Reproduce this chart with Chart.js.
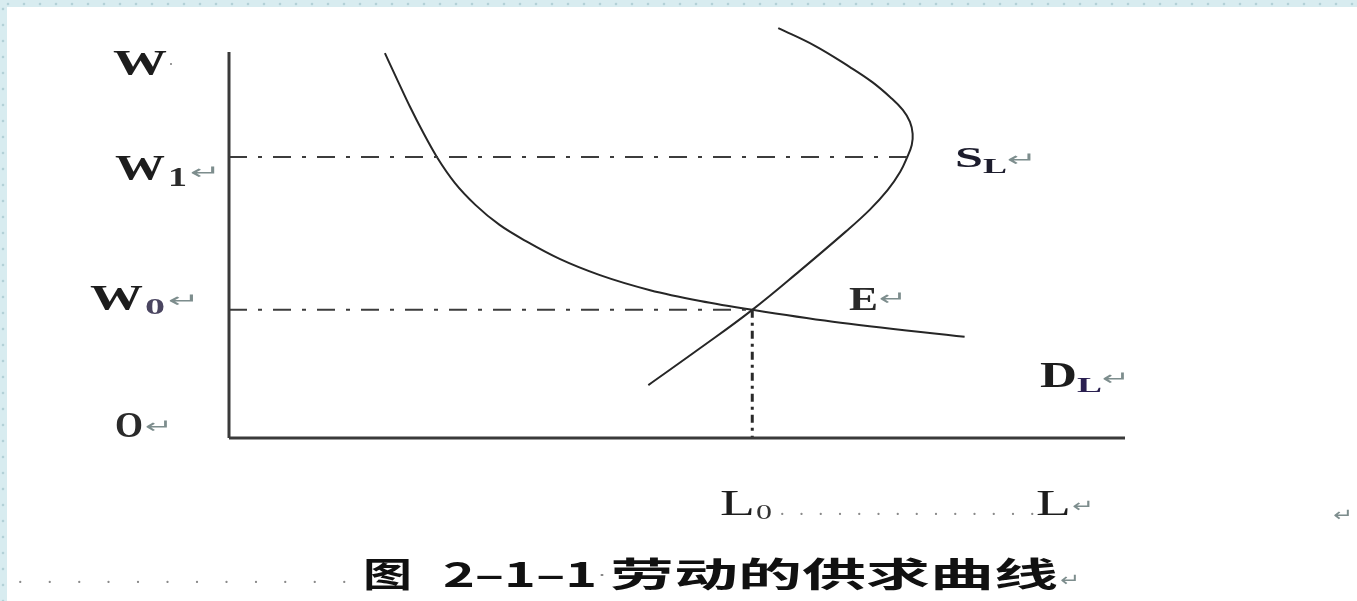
<!DOCTYPE html>
<html>
<head>
<meta charset="utf-8">
<script src="https://cdn.jsdelivr.net/npm/chart.js@4/dist/chart.umd.min.js"></script>
<style>
  html, body { margin: 0; padding: 0; overflow: hidden; }
  body {
    width: 1357px; height: 601px; position: relative;
    background:
      radial-gradient(circle at 8px 4px, #b3d1d7 1px, transparent 1.7px) 0 0 / 16px 7px repeat-x,
      radial-gradient(circle at 3px 9px, #b3d1d7 1px, transparent 1.7px) 0 0 / 7px 16px repeat-y,
      linear-gradient(#d8ecf0, #d8ecf0) 0 0 / 100% 7px no-repeat,
      linear-gradient(#d8ecf0, #d8ecf0) 0 0 / 7px 100% no-repeat,
      #fff;
  }
  #chart { position: absolute; left: 0; top: 0; }
</style>
</head>
<body>
<canvas id="chart" width="1357" height="601"></canvas>
<script>
/* Labour supply / demand curves (W against L), abstract 0-100 units */
const demandL = [17.4, 18.9, 20.2, 21.7, 23.2, 25.2, 27.5, 30.2, 33.3, 36.9, 41.4, 47.0, 52.6, 58.4, 67.4, 82.1];
const demandW = [99.7, 92.2, 85.8, 79.0, 72.8, 66.1, 60.4, 55.2, 50.8, 46.4, 42.2, 38.3, 35.5, 33.2, 30.1, 26.2];
const supplyL = [46.8, 52.6, 58.4, 63.7, 68.8, 71.5, 73.5, 74.9, 75.7, 76.2, 76.3, 76.0, 75.2, 73.8, 71.8, 69.3, 65.4, 61.3];
const supplyW = [13.7, 23.3, 33.2, 43.3, 53.4, 59.1, 64.2, 68.9, 72.8, 75.9, 78.8, 81.9, 85.0, 88.3, 92.2, 96.1, 101.6, 106.2];
const W0 = 33.2, W1 = 72.8;   // wage levels
const L0 = 58.4, L1 = 75.7;   // equilibrium labour, S_L at W1
const axisMax = 100;

const pts = (xs, ys) => xs.map((x, i) => ({ x, y: ys[i] }));
const seg = (data, extra) => Object.assign({
  data, borderColor: "#333", borderWidth: 2, pointRadius: 0, tension: 0, clip: false
}, extra);

/* ---------- text labels ---------- */
const RET = "#7d8d8d";
const SERIF = "Liberation Serif";
const CJK = "'Noto Sans CJK SC'";
// [text, left, baseline, width, font, colour]
const labels = [
  ["W", 113, 75, 54, `bold 35px ${SERIF}`, "#1d1d1d"],
  ["·", 168, 70, 6, `16px DejaVu Sans`, "#999"],
  ["W", 115, 180, 50, `bold 35px ${SERIF}`, "#1d1d1d"],
  ["1", 168, 186, 19, `bold 27px ${SERIF}`, "#2a2a2a"],
  ["↵", 190, 179, 31, `20px DejaVu Sans`, RET],
  ["W", 90, 310, 53, `bold 35px ${SERIF}`, "#1d1d1d"],
  ["0", 145, 314, 20, `bold 24px ${SERIF}`, "#4a4560"],
  ["↵", 168, 307, 32, `20px DejaVu Sans`, RET],
  ["O", 115, 437, 28, `bold 35px ${SERIF}`, "#2a2a2a"],
  ["↵", 145, 433, 28, `20px DejaVu Sans`, RET],
  ["S", 955, 167, 28, `bold 30px ${SERIF}`, "#1d1d2d"],
  ["L", 983, 173, 24, `bold 21px ${SERIF}`, "#1d1d2d"],
  ["↵", 1007, 166, 30, `20px DejaVu Sans`, RET],
  ["E", 849, 310, 29, `bold 34px ${SERIF}`, "#2a2a2a"],
  ["↵", 879, 305, 28, `20px DejaVu Sans`, RET],
  ["D", 1040, 387, 37, `bold 35px ${SERIF}`, "#1d1d1d"],
  ["L", 1077, 392, 25, `bold 22px ${SERIF}`, "#2a2050"],
  ["↵", 1102, 385, 28, `20px DejaVu Sans`, RET],
  ["L", 720, 515, 35, `36px ${SERIF}`, "#1d1d1d"],
  ["0", 756, 519, 16, `22px ${SERIF}`, "#333"],
  ["L", 1036, 515, 35, `36px ${SERIF}`, "#1d1d1d"],
  ["↵", 1072, 512, 22, `18px DejaVu Sans`, RET],
  ["↵", 1333, 521, 20, `18px DejaVu Sans`, RET],
  ["图", 363, 587, 49, `bold 34px ${CJK}`, "#111"],
  ["2–1–1", 443, 587, 154, `bold 34px ${CJK}`, "#111"],
  ["·", 598, 581, 8, `16px DejaVu Sans`, "#888"],
  ["劳动的供求曲线", 610, 587, 448, `bold 34px ${CJK}`, "#111"],
  ["↵", 1060, 586, 20, `18px DejaVu Sans`, RET],
];
// dotted leaders: [count, from, to, baseline]
const leaders = [
  [14, 780, 1030, 515],
  [12, 18, 342, 583],
];

const labelPlugin = {
  id: "labels",
  afterDraw(chart) {
    const ctx = chart.ctx;
    labels.forEach(([t, x, y, w, font, col]) => {
      ctx.save();
      ctx.font = font;
      ctx.fillStyle = col;
      ctx.textBaseline = "alphabetic";
      const m = ctx.measureText(t).width;
      ctx.translate(x, y);
      ctx.scale(w / m, 1);
      ctx.fillText(t, 0, 0);
      ctx.restore();
    });
    ctx.save();
    ctx.font = `18px ${SERIF}`;
    ctx.fillStyle = "#8a8a8a";
    leaders.forEach(([n, a, b, y]) => {
      for (let i = 0; i < n; i++) ctx.fillText(".", a + (b - a) * i / (n - 1), y);
    });
    ctx.restore();
  }
};

new Chart(document.getElementById("chart"), {
  type: "line",
  data: {
    datasets: [
      seg([{ x: 0, y: 0 }, { x: 0, y: axisMax }], { borderColor: "#3a3a3a", borderWidth: 3 }),
      seg([{ x: 0, y: 0 }, { x: axisMax, y: 0 }], { borderColor: "#3a3a3a", borderWidth: 3 }),
      seg([{ x: 0, y: W1 }, { x: L1, y: W1 }], { borderDash: [18, 11, 4, 11], borderColor: "#3c3c3c" }),
      seg([{ x: 0, y: W0 }, { x: L0, y: W0 }], { borderDash: [18, 11, 4, 11], borderColor: "#3c3c3c" }),
      seg([{ x: L0, y: W0 }, { x: L0, y: 0 }], { borderDash: [8, 5, 3, 5], borderWidth: 3, borderColor: "#2a2a2a" }),
      seg(pts(demandL, demandW), { cubicInterpolationMode: "monotone", borderColor: "#262626" }),
      seg(pts(supplyL, supplyW), { tension: 0.4, borderColor: "#262626" }),
    ]
  },
  options: {
    responsive: false, animation: false, devicePixelRatio: 1,
    layout: { padding: { left: 229, right: 232, top: 13.4, bottom: 163 } },
    scales: {
      x: { type: "linear", min: 0, max: 100, display: false },
      y: { type: "linear", min: 0, max: 110, display: false },
    },
    plugins: { legend: { display: false }, tooltip: { enabled: false } },
  },
  plugins: [labelPlugin]
});
</script>
</body>
</html>
